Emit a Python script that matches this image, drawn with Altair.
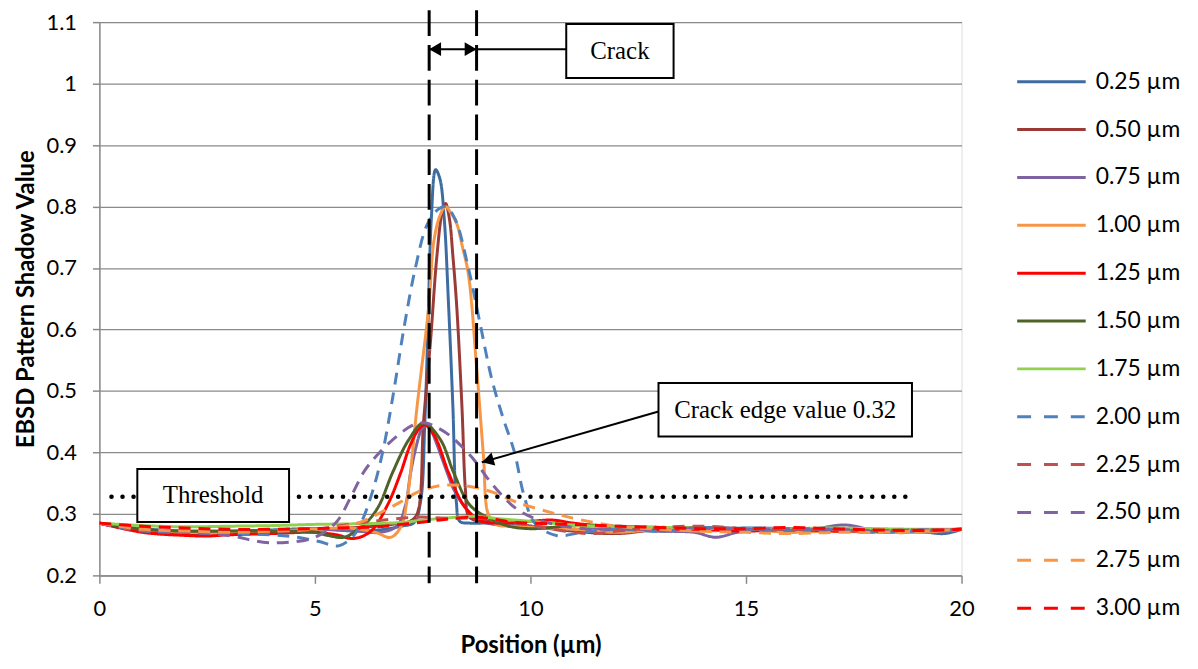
import altair as alt
import pandas as pd

# ---------------- data ----------------
SERIES = ["0.25 µm", "0.50 µm", "0.75 µm", "1.00 µm", "1.25 µm", "1.50 µm",
          "1.75 µm", "2.00 µm", "2.25 µm", "2.50 µm", "2.75 µm", "3.00 µm"]
COLORS = ["#3D6CA3", "#9A3B38", "#7E62A1", "#F79646", "#FF0000", "#4F6228",
          "#92D050", "#4F81BD", "#C0504D", "#8064A2", "#F79646", "#FF0000"]
STYLES = ["solid"] * 7 + ["dash"] * 5

X_025 = [0, 1, 2, 3, 4, 5, 6, 6.5, 7, 7.3, 7.45, 7.55, 7.62, 7.7, 7.8, 7.9, 8.0, 8.1, 8.2, 8.28,
         8.36, 8.6, 9, 10, 11, 12, 13, 14, 15, 16, 17, 18, 19, 19.6, 20]
Y_025 = [0.285, 0.276, 0.272, 0.272, 0.274, 0.276, 0.272, 0.274, 0.28, 0.286, 0.32, 0.45, 0.6, 0.78,
         0.86, 0.845, 0.78, 0.64, 0.475, 0.32, 0.288, 0.285, 0.285, 0.28, 0.275, 0.276, 0.272, 0.275,
         0.277, 0.276, 0.274, 0.275, 0.272, 0.268, 0.275]

X_050 = [0, 1, 2, 3, 4, 5, 6, 6.8, 7.2, 7.37, 7.52, 7.68, 7.83, 7.95, 8.03, 8.12, 8.2, 8.29, 8.41,
         8.49, 8.56, 8.7, 9, 9.5, 10, 11, 12, 13, 14, 15, 16, 17, 18, 19, 20]
Y_050 = [0.285, 0.272, 0.268, 0.27, 0.272, 0.275, 0.278, 0.283, 0.288, 0.30, 0.45, 0.58, 0.72, 0.79,
         0.805, 0.78, 0.72, 0.637, 0.475, 0.34, 0.297, 0.29, 0.288, 0.285, 0.28, 0.272, 0.268, 0.275,
         0.278, 0.276, 0.275, 0.276, 0.274, 0.273, 0.275]

X_075 = [0, 1, 2, 3, 4, 5, 6, 6.5, 6.9, 7.1, 7.22, 7.35, 7.47, 7.58, 7.7, 7.82, 7.95, 8.08, 8.22,
         8.45, 8.7, 9, 10, 11, 12, 13, 13.8, 14.3, 14.8, 15.5, 16.5, 17.3, 18, 18.6, 19.3, 20]
Y_075 = [0.285, 0.275, 0.27, 0.27, 0.272, 0.275, 0.272, 0.27, 0.28, 0.314, 0.367, 0.41, 0.437, 0.445,
         0.435, 0.415, 0.39, 0.365, 0.34, 0.314, 0.295, 0.285, 0.28, 0.275, 0.275, 0.272, 0.27, 0.262,
         0.27, 0.275, 0.275, 0.282, 0.273, 0.272, 0.27, 0.275]

X_100 = [0, 1, 2, 3, 4, 5, 5.8, 6.4, 6.76, 7.0, 7.14, 7.37, 7.64, 7.76, 7.9, 8.03, 8.15, 8.29, 8.42,
         8.56, 8.76, 8.91, 9.02, 9.2, 9.5, 10, 11, 12, 13, 14, 15, 16, 17, 18, 19, 20]
Y_100 = [0.285, 0.275, 0.27, 0.27, 0.272, 0.275, 0.277, 0.27, 0.262, 0.28, 0.324, 0.475, 0.637, 0.744,
         0.785, 0.80, 0.79, 0.772, 0.735, 0.69, 0.53, 0.394, 0.30, 0.283, 0.28, 0.278, 0.275, 0.27,
         0.275, 0.272, 0.275, 0.27, 0.272, 0.27, 0.27, 0.275]

X_125 = [0, 1, 2, 2.5, 3, 4, 5, 5.5, 5.9, 6.3, 6.68, 6.99, 7.2, 7.4, 7.55, 7.7, 7.82, 8.1, 8.45, 8.8,
         9.2, 10, 10.5, 11, 12, 13, 14, 15, 16, 17, 18, 19, 20]
Y_125 = [0.285, 0.27, 0.265, 0.264, 0.266, 0.268, 0.27, 0.266, 0.26, 0.272, 0.314, 0.367, 0.41, 0.437,
         0.445, 0.435, 0.421, 0.367, 0.314, 0.29, 0.285, 0.288, 0.29, 0.285, 0.278, 0.275, 0.275,
         0.272, 0.275, 0.272, 0.273, 0.273, 0.275]

X_150 = [0, 1, 2, 3, 4, 5, 5.3, 5.68, 6.0, 6.25, 6.49, 6.8, 7.18, 7.52, 7.91, 8.22, 8.6, 9.06, 9.5,
         9.98, 10.5, 11, 12, 13, 14, 15, 16, 17, 18, 19, 20]
Y_150 = [0.285, 0.275, 0.272, 0.272, 0.272, 0.27, 0.265, 0.262, 0.275, 0.29, 0.314, 0.367, 0.421,
         0.448, 0.421, 0.367, 0.314, 0.292, 0.28, 0.276, 0.278, 0.282, 0.28, 0.278, 0.277, 0.276,
         0.275, 0.276, 0.272, 0.274, 0.275]

X_175 = [0, 1, 2, 3, 4, 5, 6, 7, 7.5, 8, 8.7, 9.3, 10, 11, 12, 13, 14, 15, 16, 17, 18, 19, 20]
Y_175 = [0.285, 0.281, 0.279, 0.28, 0.281, 0.283, 0.284, 0.286, 0.29, 0.293, 0.296, 0.292, 0.288,
         0.282, 0.279, 0.278, 0.277, 0.276, 0.276, 0.277, 0.276, 0.275, 0.275]

X_200 = [0, 1, 2, 3, 4, 4.6, 5.1, 5.55, 5.9, 6.1, 6.33, 6.57, 6.83, 7.06, 7.33, 7.6, 7.85, 8.03,
         8.25, 8.56, 8.83, 9.1, 9.37, 9.63, 9.85, 10.1, 10.6, 11.2, 12, 13, 14, 15, 16, 17, 18, 19, 20]
Y_200 = [0.285, 0.272, 0.27, 0.268, 0.266, 0.262, 0.255, 0.248, 0.265, 0.29, 0.335, 0.40, 0.50, 0.60,
         0.70, 0.77, 0.795, 0.80, 0.78, 0.70, 0.61, 0.52, 0.455, 0.40, 0.33, 0.285, 0.265, 0.27,
         0.275, 0.272, 0.278, 0.275, 0.273, 0.275, 0.27, 0.272, 0.275]

X_225 = [0, 1, 2, 3, 4, 5, 6, 7, 7.5, 8, 8.7, 9.2, 9.7, 10.3, 11, 11.5, 12, 13, 14, 15, 16, 17, 18,
         19, 20]
Y_225 = [0.285, 0.275, 0.272, 0.27, 0.27, 0.275, 0.285, 0.293, 0.295, 0.293, 0.293, 0.29, 0.285,
         0.278, 0.27, 0.268, 0.272, 0.278, 0.28, 0.276, 0.275, 0.274, 0.273, 0.274, 0.275]

X_250 = [0, 1, 2, 3, 3.8, 4.4, 5, 5.5, 5.85, 6.15, 6.5, 7.0, 7.3, 7.57, 7.85, 8.14, 8.4, 8.68, 9.14,
         9.68, 10.2, 10.8, 11.5, 12, 13, 14, 15, 16, 17, 18, 19, 20]
Y_250 = [0.285, 0.275, 0.27, 0.265, 0.254, 0.254, 0.262, 0.287, 0.33, 0.37, 0.40, 0.432, 0.445,
         0.448, 0.44, 0.427, 0.41, 0.389, 0.346, 0.308, 0.29, 0.28, 0.275, 0.276, 0.274, 0.276,
         0.275, 0.276, 0.275, 0.273, 0.274, 0.275]

X_275 = [0, 1, 2, 3, 4, 5, 5.5, 6, 6.68, 7.0, 7.37, 7.91, 8.45, 8.9, 9.14, 9.68, 10.44, 11.06, 12,
         13, 14, 15, 16, 17, 18, 19, 20]
Y_275 = [0.285, 0.275, 0.272, 0.27, 0.272, 0.275, 0.278, 0.285, 0.308, 0.32, 0.335, 0.346, 0.346,
         0.34, 0.335, 0.319, 0.303, 0.292, 0.28, 0.275, 0.272, 0.27, 0.268, 0.27, 0.27, 0.272, 0.275]

X_300 = [0, 1, 2, 3, 4, 5, 6, 6.45, 7, 7.52, 8, 8.68, 9.1, 9.52, 10, 11, 12, 13, 14, 15, 16, 17, 18,
         19, 20]
Y_300 = [0.285, 0.28, 0.277, 0.275, 0.275, 0.276, 0.278, 0.279, 0.283, 0.287, 0.291, 0.295, 0.292,
         0.287, 0.285, 0.283, 0.28, 0.278, 0.276, 0.276, 0.278, 0.276, 0.274, 0.273, 0.275]

X_LISTS = [X_025, X_050, X_075, X_100, X_125, X_150, X_175, X_200, X_225, X_250, X_275, X_300]
Y_LISTS = [Y_025, Y_050, Y_075, Y_100, Y_125, Y_150, Y_175, Y_200, Y_225, Y_250, Y_275, Y_300]

Y_TICKS = [0.2, 0.3, 0.4, 0.5, 0.6, 0.7, 0.8, 0.9, 1.0, 1.1]
X_TICKS = [0, 5, 10, 15, 20]

# annotations (data coordinates)
CRACK_X = [7.65, 8.75]
THRESHOLD = 0.328
THRESH_RANGE = [0.28, 18.75]
BOXES = {
    "label": ["Threshold", "Crack", "Crack edge value 0.32"],
    "x0": [0.88, 10.83, 12.97],
    "x1": [4.4, 13.32, 18.85],
    "y0": [0.287, 1.009, 0.426],
    "y1": [0.373, 1.097, 0.513],
}
CRACK_ARROW_Y = 1.056
EDGE_ARROW = {"x": [12.97], "y": [0.4666], "x2": [8.87], "y2": [0.384]}

# ---------------- build tables ----------------
rows = []
for name, style, xs, ys in zip(SERIES, STYLES, X_LISTS, Y_LISTS):
    for i, (xv, yv) in enumerate(zip(xs, ys)):
        rows.append({"series": name, "style": style, "x": xv, "y": yv, "i": i})
df = pd.DataFrame(rows)
leg_df = pd.DataFrame({"series": SERIES, "style": STYLES})

box_df = pd.DataFrame(BOXES)
box_df["cx"] = (box_df["x0"] + box_df["x1"]) / 2
box_df["cy"] = (box_df["y0"] + box_df["y1"]) / 2

FONT = "Lato"
SERIF = "Liberation Serif"
GRAY = "#8a8a8a"

color = alt.Color("series:N", scale=alt.Scale(domain=SERIES, range=COLORS), legend=None)

x_enc = alt.X("x:Q", scale=alt.Scale(domain=[0, 20], nice=False),
              axis=alt.Axis(values=X_TICKS, grid=False, tickSize=8, tickColor=GRAY, domainColor=GRAY,
                            domainWidth=1.5, tickWidth=1.5, labelFont=FONT, labelFontSize=22,
                            labelColor="black", labelPadding=15, title="Position (µm)",
                            titleFont=FONT, titleFontSize=24, titleFontWeight="bold",
                            titleColor="black", titlePadding=15, labelFlush=False))
y_enc = alt.Y("y:Q", scale=alt.Scale(domain=[0.2, 1.1], nice=False, zero=False),
              axis=alt.Axis(values=Y_TICKS, grid=True, gridColor=GRAY, gridWidth=1.3,
                            tickSize=7, tickColor=GRAY, domainColor=GRAY, domainWidth=1.5,
                            tickWidth=1.5, labelFont=FONT, labelFontSize=22, labelColor="black",
                            labelPadding=16,
                            labelExpr="datum.value == 1 ? '1' : format(datum.value, '.1f')",
                            title="EBSD Pattern Shadow Value", titleFont=FONT, titleFontSize=24,
                            titleFontWeight="bold", titleColor="black", titlePadding=8))

lines = alt.Chart(df).mark_line(strokeWidth=3, interpolate="catmull-rom").encode(
    x=x_enc, y=y_enc, color=color,
    strokeDash=alt.StrokeDash("style:N", scale=alt.Scale(domain=["solid", "dash"],
                                                         range=[[1, 0], [12, 8]]), legend=None),
    detail="series:N", order="i:Q",
)

thr_df = pd.DataFrame({"x": [THRESH_RANGE[0]], "x2": [THRESH_RANGE[1]], "y": [THRESHOLD]})
thresh = alt.Chart(thr_df).mark_rule(color="black", strokeWidth=4.5, strokeDash=[0.1, 11],
                                      strokeCap="round").encode(x="x:Q", x2="x2:Q", y="y:Q")

crack_df = pd.DataFrame({"x": CRACK_X})
crack_lines = alt.Chart(crack_df).mark_rule(color="black", strokeWidth=3, strokeDash=[26, 9]).encode(
    x="x:Q", y=alt.value(-12), y2=alt.value(565))

carrow_df = pd.DataFrame({"x": [CRACK_X[0]], "x2": [BOXES["x0"][1]], "y": [CRACK_ARROW_Y]})
crack_arrow = alt.Chart(carrow_df).mark_rule(color="black", strokeWidth=2).encode(
    x="x:Q", x2="x2:Q", y="y:Q")
head_l = alt.Chart(pd.DataFrame({"x": [CRACK_X[0]], "y": [CRACK_ARROW_Y]})).mark_point(
    shape="triangle-left", filled=True, size=190, color="black", opacity=1, xOffset=6).encode(
    x="x:Q", y="y:Q")
head_r = alt.Chart(pd.DataFrame({"x": [CRACK_X[1]], "y": [CRACK_ARROW_Y]})).mark_point(
    shape="triangle-right", filled=True, size=190, color="black", opacity=1, xOffset=-6).encode(
    x="x:Q", y="y:Q")

edge_df = pd.DataFrame(EDGE_ARROW)
edge_arrow = alt.Chart(edge_df).mark_rule(color="black", strokeWidth=2).encode(
    x="x:Q", y="y:Q", x2="x2:Q", y2="y2:Q")
edge_head = alt.Chart(pd.DataFrame({"x": EDGE_ARROW["x2"], "y": EDGE_ARROW["y2"]})).mark_point(
    shape="triangle-right", filled=True, size=190, color="black", opacity=1, angle=164,
    xOffset=6, yOffset=-1.7).encode(x="x:Q", y="y:Q")

boxes = alt.Chart(box_df).mark_rect(fill="white", stroke="black", strokeWidth=2).encode(
    x="x0:Q", x2="x1:Q", y="y0:Q", y2="y1:Q")
box_text = alt.Chart(box_df).mark_text(font=SERIF, fontSize=25, color="black",
                                       align="center", baseline="middle").encode(
    x="cx:Q", y="cy:Q", text="label:N")

main = alt.layer(lines, thresh, crack_lines, crack_arrow, head_l, head_r, edge_arrow, edge_head,
                 boxes, box_text)

leg_y = alt.Y("series:N", sort=SERIES,
              scale=alt.Scale(type="point", domain=SERIES, range=[60, 590], padding=0), axis=None)
leg_rules = alt.Chart(leg_df).mark_rule(strokeWidth=3).encode(
    x=alt.value(924), x2=alt.value(993), y=leg_y, color=color,
    strokeDash=alt.StrokeDash("style:N", scale=alt.Scale(domain=["solid", "dash"],
                                                         range=[[1, 0], [14, 13]]), legend=None),
)
leg_text = alt.Chart(leg_df).mark_text(font=FONT, fontSize=23, color="black", align="left",
                                       baseline="middle").encode(
    x=alt.value(1003), y=leg_y, text="series:N")
legend = alt.layer(leg_rules, leg_text)

chart = alt.layer(main, legend).resolve_scale(y="independent", strokeDash="independent").properties(
    width=868, height=557,
    autosize=alt.AutoSizeParams(type="none"),
    padding={"left": 92, "top": 12, "right": 230, "bottom": 90},
).configure_view(stroke=None).configure(background="white")

chart.save("out.html", embed_options={"renderer": "svg", "actions": False})
